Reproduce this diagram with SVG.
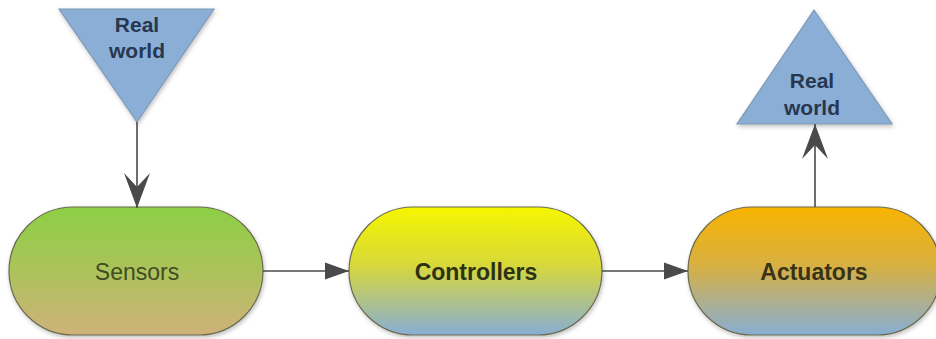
<svg xmlns="http://www.w3.org/2000/svg" width="936" height="339" viewBox="0 0 936 339">
<defs>
<linearGradient id="gS" x1="0" y1="0" x2="0" y2="1"><stop offset="0" stop-color="#8ccf46"/><stop offset="0.45" stop-color="#a8c458"/><stop offset="1" stop-color="#cfb27a"/></linearGradient>
<linearGradient id="gC" x1="0" y1="0" x2="0" y2="1"><stop offset="0" stop-color="#f6f600"/><stop offset="0.45" stop-color="#d8d83a"/><stop offset="1" stop-color="#88aed4"/></linearGradient>
<linearGradient id="gA" x1="0" y1="0" x2="0" y2="1"><stop offset="0" stop-color="#f8b400"/><stop offset="0.45" stop-color="#d8b040"/><stop offset="1" stop-color="#88aed4"/></linearGradient>
<marker id="tri" markerWidth="24" markerHeight="18" refX="24" refY="9" orient="auto" markerUnits="userSpaceOnUse"><path d="M0,0.5 L24,9 L0,17.5 Z" fill="#4a4a4a"/></marker>
<marker id="chev" markerWidth="35" markerHeight="26" refX="35" refY="13" orient="auto" markerUnits="userSpaceOnUse"><path d="M0,0 L35,13 L0,26 L14,13 Z" fill="#4a4a4a"/></marker>
<filter id="sh" x="-10%" y="-10%" width="120%" height="130%"><feDropShadow dx="1" dy="2" stdDeviation="2" flood-color="#000" flood-opacity="0.25"/></filter>
</defs>
<style>
.pill{stroke:#6a6a50;stroke-width:1.2;filter:url(#sh)}
.tri{fill:#8aaed6;stroke:#7f99b5;stroke-width:1.2;filter:url(#sh)}
.rw{font-family:"Liberation Sans",Arial,sans-serif;font-size:21px;font-weight:bold;fill:#27374f;text-anchor:middle}
.lbl{font-family:"Liberation Sans",Arial,sans-serif;font-size:23px;text-anchor:middle}
.con{stroke:#4a4a4a;stroke-width:1.6;fill:none}
</style>
<rect width="936" height="339" fill="#ffffff"/>
<g id="realworld-in">
<polygon class="tri" points="59,9 214,9 137,122"/>
<text class="rw" x="137" y="32">Real</text>
<text class="rw" x="137" y="58">world</text>
</g>
<g id="realworld-out">
<polygon class="tri" points="814,10 892,124 737,124"/>
<text class="rw" x="812" y="88">Real</text>
<text class="rw" x="812" y="115">world</text>
</g>
<g id="sensors">
<rect class="pill" x="9" y="207" width="254" height="128" rx="64" fill="url(#gS)"/>
<text class="lbl" x="137" y="280" fill="#3e4d22">Sensors</text>
</g>
<g id="controllers">
<rect class="pill" x="349" y="207" width="253" height="128" rx="64" fill="url(#gC)"/>
<text class="lbl" x="476" y="280" font-weight="bold" fill="#2c3212">Controllers</text>
</g>
<g id="actuators">
<rect class="pill" x="688" y="207" width="253" height="128" rx="64" fill="url(#gA)"/>
<text class="lbl" x="814" y="280" font-weight="bold" fill="#3a3215">Actuators</text>
</g>
<g id="connectors">
<line class="con" x1="137" y1="122" x2="137" y2="208" marker-end="url(#chev)"/>
<line class="con" x1="263" y1="271" x2="349" y2="271" marker-end="url(#tri)"/>
<line class="con" x1="602" y1="271" x2="688" y2="271" marker-end="url(#tri)"/>
<line class="con" x1="815" y1="207" x2="815" y2="124" marker-end="url(#chev)"/>
</g>
</svg>
